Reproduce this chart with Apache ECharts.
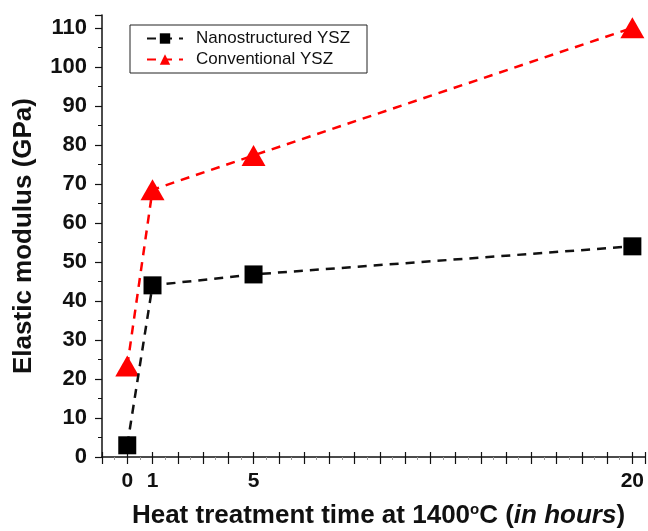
<!DOCTYPE html>
<html>
<head>
<meta charset="utf-8">
<script src="https://cdn.jsdelivr.net/npm/echarts@6/dist/echarts.min.js"></script>
<style>
  html, body { margin: 0; padding: 0; background: #fff; }
  #main { width: 648px; height: 531px; }
</style>
</head>
<body>
<div id="main"></div>
<script>
// heat treatment time (hours)
var hours = [0, 1, 5, 20];
var nanoYSZ = [3, 44, 46.8, 54];
var convYSZ = [23.3, 68.5, 77.3, 110];
var shownXLabels = [0, 1, 5, 20];

var dom = document.getElementById('main');
var myChart = echarts.init(dom, null, { renderer: 'canvas' });

function pairs(xs, ys) {
  return xs.map(function (x, i) { return [x, ys[i]]; });
}

var font = 'Liberation Sans, Arial, sans-serif';

var option = {
  backgroundColor: '#fff',
  animation: false,
  grid: { left: 102, right: 3, top: 15, bottom: 74, outerBoundsMode: 'none' },
  legend: {
    orient: 'vertical',
    left: 130,
    top: 25,
    padding: [5, 17, 5, 16],
    itemGap: 4,
    itemWidth: 36,
    itemHeight: 13,
    borderColor: '#222',
    borderWidth: 1,
    textStyle: { fontFamily: font, fontSize: 17, color: '#111', padding: [0, 0, 0, 8] },
    data: ['Nanostructured YSZ', 'Conventional YSZ']
  },
  xAxis: [{
    type: 'value',
    min: -1,
    max: 20.5,
    interval: 1,
    name: 'Heat treatment time at 1400{sup|o}C ({it|in hours})',
    nameLocation: 'middle',
    nameGap: 45,
    nameMoveOverlap: false,
    nameTextStyle: {
      fontFamily: font, fontSize: 26, fontWeight: 'bold', color: '#111',
      padding: [0, 0, 0, 10],
      rich: {
        sup: { fontFamily: font, fontSize: 15, fontWeight: 'bold', color: '#111', verticalAlign: 'top', padding: [0, 0, 13, 0] },
        it: { fontFamily: font, fontSize: 26, fontWeight: 'bold', fontStyle: 'italic', color: '#111' }
      }
    },
    axisLine: { onZero: false, lineStyle: { color: '#111', width: 1.5 } },
    axisTick: { length: 7, lineStyle: { color: '#111', width: 1.2 } },
    minorTick: { show: true, splitNumber: 2, length: 3, lineStyle: { color: '#999' } },
    splitLine: { show: false },
    axisLabel: {
      margin: 14,
      fontFamily: font, fontSize: 21, fontWeight: 'bold', color: '#111',
      formatter: function (v) { return shownXLabels.indexOf(v) >= 0 ? String(v) : ''; }
    }
  }, {
    type: 'value',
    position: 'bottom',
    min: -1,
    max: 20.5,
    interval: 1,
    axisLine: { show: false, onZero: false },
    axisTick: { inside: true, length: 5, lineStyle: { color: '#111', width: 1.2 } },
    axisLabel: { show: false },
    splitLine: { show: false }
  }],
  yAxis: {
    type: 'value',
    min: 0,
    max: 113.3,
    interval: 10,
    name: 'Elastic modulus (GPa)',
    nameLocation: 'middle',
    nameGap: 65,
    nameMoveOverlap: false,
    nameTextStyle: { fontFamily: font, fontSize: 26, fontWeight: 'bold', color: '#111' },
    axisLine: { show: true, onZero: false, lineStyle: { color: '#111', width: 1.5 } },
    axisTick: { show: true, length: 7, lineStyle: { color: '#111', width: 1.2 } },
    minorTick: { show: true, splitNumber: 2, length: 4, lineStyle: { color: '#111' } },
    splitLine: { show: false },
    axisLabel: {
      margin: 15,
      fontFamily: font, fontSize: 22, fontWeight: 'bold', color: '#111',
      formatter: function (v) { return v > 110 ? '' : String(v); }
    }
  },
  series: [{
    name: 'Nanostructured YSZ',
    type: 'line',
    data: pairs(hours, nanoYSZ),
    symbol: 'rect',
    symbolSize: 18,
    itemStyle: { color: '#000' },
    lineStyle: { color: '#111', width: 2.5, type: [9, 7] },
    z: 3
  }, {
    name: 'Conventional YSZ',
    type: 'line',
    data: pairs(hours, convYSZ),
    symbol: 'triangle',
    symbolSize: [24, 21],
    itemStyle: { color: '#ff0000' },
    lineStyle: { color: '#ff0000', width: 2.5, type: [9, 7] },
    z: 2
  }]
};

myChart.setOption(option);
window.addEventListener('resize', myChart.resize);
</script>
</body>
</html>
